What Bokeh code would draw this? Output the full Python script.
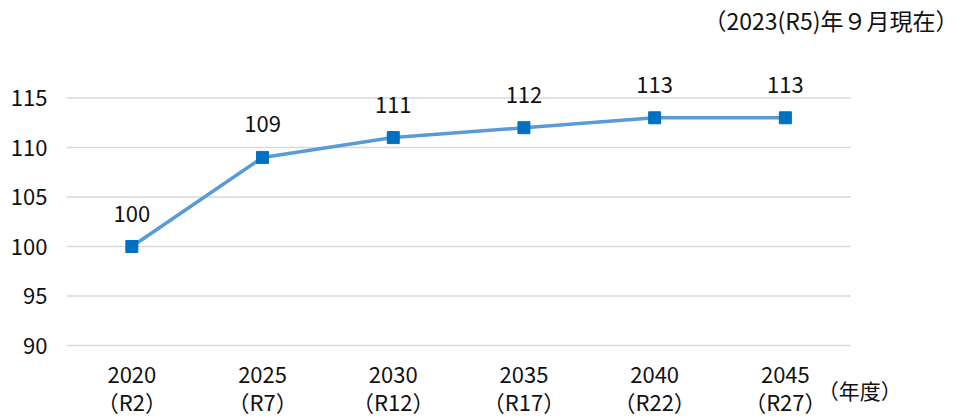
from bokeh.plotting import figure
from bokeh.models import Range1d, FixedTicker, ColumnDataSource
from bokeh.core.properties import value
from bokeh.embed import file_html
from bokeh.resources import INLINE

years = ["2020", "2025", "2030", "2035", "2040", "2045"]
reiwa = ["（R2）", "（R7）", "（R12）", "（R17）", "（R22）", "（R27）"]
values = [100, 109, 111, 112, 113, 113]
y_ticks = [90, 95, 100, 105, 110, 115]
note = "（2023(R5)年９月現在）"
unit = "（年度）"

FONT = "Noto Sans CJK JP"
TXT = "#111111"
n = len(years)
xs = [i + 0.5 for i in range(n)]

W, H = 958, 418
LEFT = 66
PX_X = 130.7          # px per category
PX_Y = 9.9            # px per value unit
BASE_FROM_TOP = 345   # pixel row of the axis baseline (y=90) inside the figure
y0 = y_ticks[0]
x_end = (W - LEFT) / PX_X
y_start = y0 - (H - BASE_FROM_TOP) / PX_Y
y_end = y0 + BASE_FROM_TOP / PX_Y

p = figure(width=W, height=H, output_backend="svg", toolbar_location=None,
           x_range=Range1d(0, x_end), y_range=Range1d(y_start, y_end),
           min_border_left=LEFT, min_border_right=0, min_border_top=0,
           min_border_bottom=0)
p.outline_line_color = None
p.background_fill_color = "white"
p.border_fill_color = "white"
p.xgrid.grid_line_color = None
p.ygrid.grid_line_color = None
p.xaxis.visible = False

p.yaxis.ticker = FixedTicker(ticks=y_ticks)
p.yaxis.axis_line_color = None
p.yaxis.major_tick_line_color = None
p.yaxis.minor_tick_line_color = None
p.yaxis.major_tick_out = 0
p.yaxis.major_tick_in = 0
p.yaxis.major_label_standoff = 19
p.yaxis.major_label_text_font = FONT
p.yaxis.major_label_text_font_size = "22px"
p.yaxis.major_label_text_color = TXT

# horizontal grid lines spanning the category band
p.segment(x0=[0] * len(y_ticks), x1=[n] * len(y_ticks), y0=y_ticks, y1=y_ticks,
          line_color="#d9d9d9", line_width=1.6)

src = ColumnDataSource(dict(x=xs, y=values, t=[str(v) for v in values],
                            yr=years, rw=reiwa, base=[y0] * n))
p.line("x", "y", source=src, line_color="#5B9BD5", line_width=3.5)
p.scatter("x", "y", source=src, marker="square", size=12, fill_color="#0070C0",
          line_color="#0070C0")
p.text("x", "y", text="t", source=src, text_align="center", text_baseline="middle",
       y_offset=-33, text_font=value(FONT), text_font_size="22px", text_color=TXT)

# category labels (two lines)
p.text("x", "base", text="yr", source=src, text_align="center", text_baseline="middle",
       y_offset=29, text_font=value(FONT), text_font_size="22px", text_color=TXT)
p.text("x", "base", text="rw", source=src, text_align="center", text_baseline="middle",
       y_offset=55, text_font=value(FONT), text_font_size="22px", text_color=TXT)

# unit label and note
p.text(x=[n + 0.07], y=[y0], text=[unit], text_align="center", text_baseline="middle",
       y_offset=44, text_font=value(FONT), text_font_size="21px", text_color=TXT)
p.text(x=[x_end], y=[y_end], text=[note], text_align="right", text_baseline="middle",
       y_offset=19, text_font=value(FONT), text_font_size="23px", text_color=TXT)

open("out.html", "w").write(file_html(p, INLINE))
